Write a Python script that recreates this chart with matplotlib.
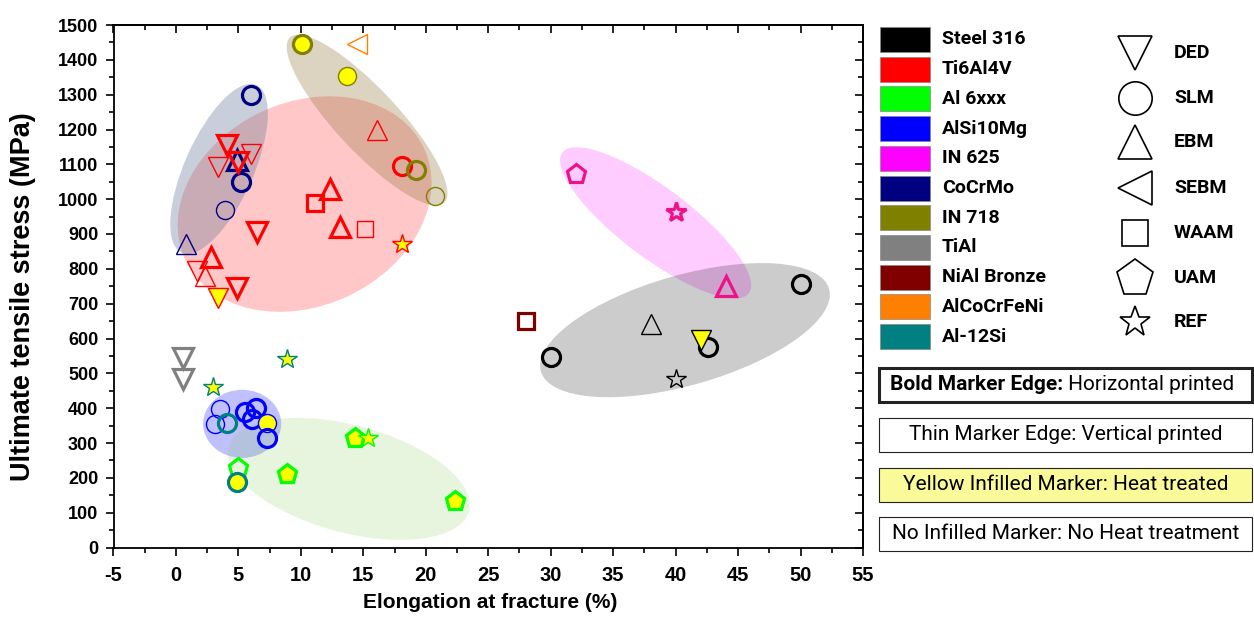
import matplotlib.pyplot as plt
from matplotlib.patches import Ellipse, Rectangle
from matplotlib.transforms import Affine2D
from matplotlib.ticker import MultipleLocator

plt.rcParams['font.family'] = ['Liberation Sans', 'DejaVu Sans']
plt.rcParams['axes.unicode_minus'] = False

# materials and their swatch colours
alloys = ['Steel 316', 'Ti6Al4V', 'Al 6xxx', 'AlSi10Mg', 'IN 625', 'CoCrMo',
          'IN 718', 'TiAl', 'NiAl Bronze', 'AlCoCrFeNi', 'Al-12Si']
swatch_colors = ['#000000', '#ff0000', '#00ff00', '#0000ff', '#ff00ff', '#000080',
                 '#808000', '#808080', '#800000', '#ff8000', '#008080']

# manufacturing processes and their markers
processes = ['DED', 'SLM', 'EBM', 'SEBM', 'WAAM', 'UAM', 'REF']
process_markers = ['v', 'o', '^', '<', 's', 'p', '*']

# one entry per specimen (drawn in this order)
pt_alloy = (['Al 6xxx'] * 5 + ['AlSi10Mg'] * 7 + ['Al-12Si'] * 4 + ['TiAl'] * 2
            + ['CoCrMo'] * 5 + ['Ti6Al4V'] * 17 + ['IN 718'] * 4 + ['AlCoCrFeNi']
            + ['Steel 316'] * 6 + ['IN 625'] * 3 + ['NiAl Bronze'])
pt_process = (['UAM', 'UAM', 'UAM', 'REF', 'UAM']
              + ['SLM'] * 7
              + ['REF', 'REF', 'SLM', 'SLM']
              + ['DED', 'DED']
              + ['SLM', 'SLM', 'SLM', 'EBM', 'EBM']
              + ['DED'] * 8 + ['EBM'] * 5 + ['WAAM', 'WAAM', 'SLM', 'REF']
              + ['SLM'] * 4
              + ['SEBM']
              + ['SLM', 'SLM', 'SLM', 'EBM', 'DED', 'REF']
              + ['UAM', 'REF', 'EBM']
              + ['WAAM'])
elongation = ([5.0, 8.9, 14.3, 15.4, 22.3]
              + [3.5, 3.1, 5.5, 6.4, 6.1, 7.3, 7.3]
              + [8.9, 3.0, 4.1, 4.9]
              + [0.6, 0.6]
              + [6.0, 5.2, 3.9, 0.8, 4.9]
              + [4.1, 6.0, 3.4, 5.0, 6.5, 1.7, 4.9, 3.4,
                 2.8, 2.3, 16.1, 12.3, 13.1, 11.1, 15.1, 18.1, 18.1]
              + [10.1, 13.7, 19.2, 20.7]
              + [14.5]
              + [50.0, 30.0, 42.6, 38.0, 42.0, 40.0]
              + [32.0, 40.0, 44.0]
              + [28.0])
uts = ([228, 210, 313, 315, 133]
       + [397, 355, 390, 400, 368, 357, 315]
       + [540, 462, 356, 188]
       + [545, 485]
       + [1300, 1050, 970, 870, 1113]
       + [1155, 1130, 1093, 1108, 905, 795, 745, 715,
          835, 780, 1200, 1030, 920, 990, 915, 1095, 870]
       + [1445, 1355, 1085, 1010]
       + [1445]
       + [757, 548, 577, 643, 595, 485]
       + [1072, 963, 750]
       + [650])
bold_edge = ([1, 1, 1, 0, 1]
             + [0, 0, 1, 1, 1, 0, 1]
             + [0, 0, 1, 1]
             + [1, 1]
             + [1, 1, 0, 0, 1]
             + [1, 0, 0, 1, 1, 0, 1, 0, 1, 0, 0, 1, 1, 1, 0, 1, 0]
             + [1, 0, 1, 0]
             + [0]
             + [1, 1, 1, 0, 0, 0]
             + [1, 1, 1]
             + [1])
heat_treated = ([0, 1, 1, 1, 1]
                + [0, 0, 0, 0, 0, 1, 0]
                + [1, 1, 0, 1]
                + [0, 0]
                + [0, 0, 0, 0, 0]
                + [0, 0, 0, 0, 0, 0, 0, 1, 0, 0, 0, 0, 0, 0, 0, 0, 1]
                + [1, 1, 0, 0]
                + [0]
                + [0, 0, 0, 0, 1, 0]
                + [0, 0, 0]
                + [0])

# shaded groups: centre (%, MPa), axis lengths and tilt as seen on screen
grp_cx = [10.3, 3.45, 15.3, 38.4, 40.75, 5.3, 13.85]
grp_cy = [986, 1087, 1227, 932, 624, 355, 197]
grp_major = [21.1, 14.7, 18.1, 18.7, 24.0, 6.25, 19.9]
grp_minor = [16.3, 5.5, 5.0, 5.6, 8.8, 5.45, 8.6]
grp_angle = [25, 66, -47, -37, 16, 0, -15]
grp_color = ['#ff0000', '#6a7a9a', '#8c7333', '#ff00ff', '#000000', '#3030ff', '#80cc4d']
grp_alpha = [0.22, 0.36, 0.30, 0.20, 0.20, 0.30, 0.18]

marker_colors = dict(zip(alloys, swatch_colors))
marker_colors['IN 625'] = '#ee1289'
marker_size = {'v': 14.5, 'o': 13, '^': 14.5, '<': 14.5, 's': 11.5, 'p': 14, '*': 15}

W, H = 1254, 629
fig = plt.figure(figsize=(W / 100, H / 100), dpi=100)
ax = fig.add_axes([113.5 / W, 1 - 547.5 / H, 749.5 / W, 522.5 / H])
ax.set_xlim(-5, 55)
ax.set_ylim(0, 1500)

# ellipses are laid out in a space where 1 % and k MPa have the same length
k = (749.5 / 60) / (522.5 / 1500)
screen = Affine2D().scale(1, k) + ax.transData
for cx, cy, a, b, ang, col, al in zip(grp_cx, grp_cy, grp_major, grp_minor,
                                      grp_angle, grp_color, grp_alpha):
    ax.add_patch(Ellipse((cx, cy / k), a, b, angle=ang, transform=screen,
                         facecolor=col, edgecolor='none', alpha=al, zorder=1))

for al, pr, x, y, b, h in zip(pt_alloy, pt_process, elongation, uts, bold_edge, heat_treated):
    m = process_markers[processes.index(pr)]
    ax.plot(x, y, ls='none', marker=m, ms=marker_size[m], mec=marker_colors[al],
            mew=2.3 if b else 1.0, mfc='#ffff00' if h else 'none', zorder=3)

for sp in ax.spines.values():
    sp.set_linewidth(1.3)
ax.xaxis.set_major_locator(MultipleLocator(5))
ax.xaxis.set_minor_locator(MultipleLocator(2.5))
ax.yaxis.set_major_locator(MultipleLocator(100))
ax.yaxis.set_minor_locator(MultipleLocator(50))
ax.tick_params(which='both', direction='out', width=1.2, top=False, right=False)
ax.tick_params(which='major', length=6)
ax.tick_params(which='minor', length=3.5)
ax.tick_params(axis='x', labelsize=14.5, pad=7)
ax.tick_params(axis='y', labelsize=13, pad=5)
for lbl in ax.get_xticklabels() + ax.get_yticklabels():
    lbl.set_fontweight('bold')

# mirrored inward ticks on top and right
top = ax.secondary_xaxis('top')
top.xaxis.set_major_locator(MultipleLocator(5))
top.xaxis.set_minor_locator(MultipleLocator(2.5))
top.tick_params(which='both', direction='in', width=1.2, labeltop=False)
top.tick_params(which='major', length=6)
top.tick_params(which='minor', length=3.5)
right = ax.secondary_yaxis('right')
right.yaxis.set_major_locator(MultipleLocator(100))
right.yaxis.set_minor_locator(MultipleLocator(50))
right.tick_params(which='both', direction='in', width=1.2, labelright=False)
right.tick_params(which='major', length=6)
right.tick_params(which='minor', length=3.5)
for s in (top, right):
    for sp in s.spines.values():
        sp.set_linewidth(1.3)

fig.text(23 / W, 1 - 297 / H, 'Ultimate tensile stress (MPa)', rotation=90,
         ha='center', va='center', fontsize=19.5, fontweight='bold')
fig.text(490 / W, 1 - 602 / H, 'Elongation at fracture (%)',
         ha='center', va='center', fontsize=15, fontweight='bold')

# legend panel, laid out in pixel units
lax = fig.add_axes([0, 0, 1, 1])
lax.set_xlim(0, W)
lax.set_ylim(H, 0)
lax.axis('off')
leg_font = ['Roboto', 'DejaVu Sans']

for i, (name, col) in enumerate(zip(alloys, swatch_colors)):
    yc = 39.5 + 29.7 * i
    lax.add_patch(Rectangle((880, yc - 12.5), 50, 25, facecolor=col,
                            edgecolor='#888888', lw=0.5))
    lax.text(942, yc, name, ha='left', va='center', fontsize=14,
             fontweight='bold', family=leg_font)

shape_y = [53, 98, 142, 188, 233, 278, 322]
shape_ms = {'v': 25, 'o': 24, '^': 25, '<': 25, 's': 19, 'p': 28, '*': 23}
for pr, m, yc in zip(processes, process_markers, shape_y):
    lax.plot(1135, yc, ls='none', marker=m, ms=shape_ms[m], mec='black',
             mfc='none', mew=1.2)
    lax.text(1174, yc, pr, ha='left', va='center', fontsize=14,
             fontweight='bold', family=leg_font)

notes = ['Bold Marker Edge: Horizontal printed', 'Thin Marker Edge: Vertical printed',
         'Yellow Infilled Marker: Heat treated', 'No Infilled Marker: No Heat treatment']
note_top = [368, 418, 467.5, 516.5]
note_fill = ['white', 'white', '#fafa98', 'white']
note_lw = [2.2, 0.8, 0.8, 0.8]
for i, (txt, y0, fc, lw) in enumerate(zip(notes, note_top, note_fill, note_lw)):
    lax.add_patch(Rectangle((879, y0), 373, 34, facecolor=fc, edgecolor='#222222', lw=lw))
    if i == 0:
        head, tail = txt.split(': ')
        t1 = lax.text(890, y0 + 17, head + ':', ha='left', va='center', fontsize=15,
                      fontweight='bold', family=leg_font)
        lax.annotate(' ' + tail, xy=(1, 0.5), xycoords=t1, ha='left', va='center',
                     fontsize=15, family=leg_font)
    else:
        lax.text(1065.5, y0 + 17, txt, ha='center', va='center', fontsize=15,
                 family=leg_font)

fig.savefig('out.png', dpi=100)
